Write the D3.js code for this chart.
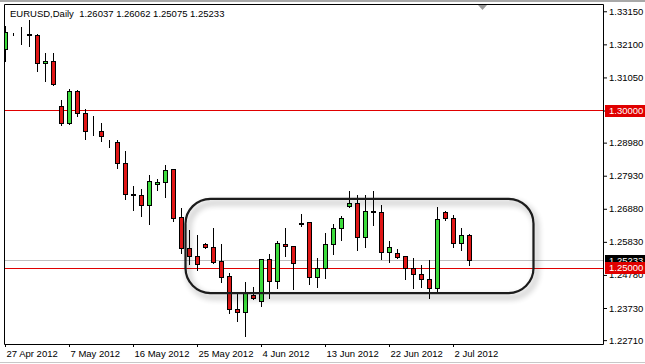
<!DOCTYPE html>
<html>
<head>
<meta charset="utf-8">
<script src="https://cdn.jsdelivr.net/npm/d3@7/dist/d3.min.js"></script>
<style>
body { margin: 0; background: #fff; }
text { font-family: Tahoma, "Liberation Sans", Arial, sans-serif; font-size: 9.5px; }
</style>
</head>
<body>
<script>
var w = 645;
var h = 364;

// daily bars, EURUSD (Sunday bars included)
var dates = ["27 Apr", "29 Apr", "30 Apr", "1 May", "2 May", "3 May", "4 May", "6 May", "7 May", "8 May",
    "9 May", "10 May", "11 May", "13 May", "14 May", "15 May", "16 May", "17 May", "18 May", "20 May",
    "21 May", "22 May", "23 May", "24 May", "25 May", "27 May", "28 May", "29 May", "30 May", "31 May",
    "1 Jun", "3 Jun", "4 Jun", "5 Jun", "6 Jun", "7 Jun", "8 Jun", "10 Jun", "11 Jun", "12 Jun",
    "13 Jun", "14 Jun", "15 Jun", "17 Jun", "18 Jun", "19 Jun", "20 Jun", "21 Jun", "22 Jun", "24 Jun",
    "25 Jun", "26 Jun", "27 Jun", "28 Jun", "29 Jun", "1 Jul", "2 Jul", "3 Jul", "4 Jul"];
var opens = [1.31943, 1.32410, 1.32400, 1.32410, 1.32389, 1.31480, 1.31561, 1.30127, 1.29586, 1.30605,
    1.29904, 1.29331, 1.29320, 1.29030, 1.28981, 1.28312, 1.27325, 1.27310, 1.26975, 1.27643,
    1.27707, 1.28121, 1.26592, 1.25605, 1.25350, 1.25732, 1.25637, 1.25191, 1.24745, 1.23694,
    1.23599, 1.24140, 1.23949, 1.25255, 1.24586, 1.25732, 1.25669, 1.26401, 1.26433, 1.24713,
    1.25000, 1.25732, 1.26242, 1.26943, 1.27038, 1.25955, 1.26783, 1.26770, 1.25478, 1.25446,
    1.25350, 1.25000, 1.24809, 1.24650, 1.24363, 1.26752, 1.26561, 1.25764, 1.26037];
var highs = [1.32675, 1.32450, 1.32650, 1.32866, 1.32420, 1.31815, 1.31815, 1.30318, 1.30669, 1.30630,
    1.30032, 1.29809, 1.29586, 1.29045, 1.29045, 1.28694, 1.27580, 1.27484, 1.27930, 1.27803,
    1.28248, 1.28140, 1.26879, 1.26178, 1.26019, 1.25764, 1.26242, 1.25732, 1.24841, 1.24236,
    1.24554, 1.24395, 1.25270, 1.25414, 1.25828, 1.26242, 1.25680, 1.26688, 1.26450, 1.25287,
    1.26083, 1.26369, 1.26624, 1.27420, 1.27293, 1.27293, 1.27420, 1.26975, 1.25828, 1.25573,
    1.25360, 1.25287, 1.25064, 1.25223, 1.26911, 1.26783, 1.26656, 1.26242, 1.26062];
var lows = [1.31561, 1.32380, 1.32080, 1.32038, 1.31242, 1.30924, 1.30796, 1.29522, 1.29570, 1.29809,
    1.29076, 1.29204, 1.29013, 1.28822, 1.28153, 1.27166, 1.26815, 1.26624, 1.26369, 1.27452,
    1.27229, 1.26465, 1.25446, 1.25096, 1.24936, 1.25605, 1.25140, 1.24554, 1.23567, 1.23312,
    1.22834, 1.24013, 1.23790, 1.24045, 1.24363, 1.25350, 1.24331, 1.26306, 1.24490, 1.24395,
    1.24682, 1.25414, 1.25860, 1.26911, 1.25541, 1.25637, 1.26338, 1.25255, 1.25159, 1.25287,
    1.24650, 1.24363, 1.24395, 1.24045, 1.24268, 1.26497, 1.25637, 1.25541, 1.25075];
var closes = [1.32484, 1.32400, 1.32410, 1.32390, 1.31497, 1.31550, 1.30810, 1.29586, 1.30605, 1.29904,
    1.29331, 1.29320, 1.29172, 1.29013, 1.28312, 1.27325, 1.27310, 1.26975, 1.27739, 1.27707,
    1.28089, 1.26561, 1.25605, 1.25350, 1.25096, 1.25637, 1.25159, 1.24713, 1.23694, 1.23599,
    1.24236, 1.24045, 1.25255, 1.24586, 1.25764, 1.25669, 1.25127, 1.26390, 1.24713, 1.25000,
    1.25732, 1.26242, 1.26561, 1.27038, 1.25955, 1.26783, 1.26770, 1.25478, 1.25637, 1.25318,
    1.25000, 1.24809, 1.24650, 1.24363, 1.26529, 1.26561, 1.25764, 1.26019, 1.25233];

var priceTicks = [1.33150, 1.32100, 1.31050, 1.30000, 1.28980, 1.27930, 1.26880, 1.25830, 1.24780, 1.23730, 1.22710];
var dateTicks = [0, 8, 16, 24, 32, 40, 48, 56];
var tickLabels = ["27 Apr 2012", "7 May 2012", "16 May 2012", "25 May 2012", "4 Jun 2012", "13 Jun 2012", "22 Jun 2012", "2 Jul 2012"];

var levels = [1.30000, 1.25000];
var lastPrice = 1.25233;
var title = "EURUSD,Daily  1.26037 1.26062 1.25075 1.25233";

// range box drawn on the chart (bar index / price)
var boxBars = [22.5, 66];
var boxPrices = [1.27197, 1.24204];

var bars = dates.map((d, i) => ({
    i: i, date: d, o: opens[i], h: highs[i], l: lows[i], c: closes[i]
}));

var fmt = d3.format(".5f");
var bull = "#3cdc3c";
var bear = "#e01616";
var levelColor = "#e00000";

var xScale = d3.scaleLinear()
    .domain([0, 58])
    .range([5.5, 469.5]);

var yScale = d3.scaleLinear()
    .domain([1.25, 1.30])
    .range([268, 110.5]);

var py = p => Math.round(yScale(p) - 0.5) + 0.5;

var svg = d3.select("body")
    .append("svg")
    .attr("width", w)
    .attr("height", h);

var defs = svg.append("defs");
defs.append("clipPath")
    .attr("id", "plot")
    .append("rect")
    .attr("x", 5).attr("y", 5)
    .attr("width", 598).attr("height", 339);

var shadow = defs.append("filter")
    .attr("id", "shadow")
    .attr("x", "-10%").attr("y", "-20%")
    .attr("width", "120%").attr("height", "150%");
shadow.append("feGaussianBlur")
    .attr("in", "SourceAlpha")
    .attr("stdDeviation", 3)
    .attr("result", "blur");
shadow.append("feOffset")
    .attr("in", "blur")
    .attr("dx", 3).attr("dy", 4)
    .attr("result", "off");
shadow.append("feComponentTransfer")
    .attr("in", "off")
    .attr("result", "soft")
    .append("feFuncA")
    .attr("type", "linear")
    .attr("slope", 0.45);
var merge = shadow.append("feMerge");
merge.append("feMergeNode").attr("in", "soft");
merge.append("feMergeNode").attr("in", "SourceGraphic");

// window edges
svg.append("rect")
    .attr("x", 0).attr("y", 0)
    .attr("width", w).attr("height", 2)
    .attr("fill", "#a8a8a8");
svg.append("line")
    .attr("x1", 0).attr("x2", w)
    .attr("y1", 362.5).attr("y2", 362.5)
    .attr("stroke", "#c8c8c8");

var plot = svg.append("g").attr("clip-path", "url(#plot)");

// current price line
plot.append("line")
    .attr("x1", 4).attr("x2", 603)
    .attr("y1", py(lastPrice)).attr("y2", py(lastPrice))
    .attr("stroke", "#c0c0c0");

// horizontal levels
plot.selectAll("line.level")
    .data(levels)
    .enter()
    .append("line")
    .attr("class", "level")
    .attr("x1", 4).attr("x2", 603)
    .attr("y1", d => py(d)).attr("y2", d => py(d))
    .style("stroke", levelColor);

var candles = plot.selectAll("g.bar")
    .data(bars)
    .enter()
    .append("g")
    .attr("class", "bar");

candles.append("line")
    .attr("x1", d => xScale(d.i)).attr("x2", d => xScale(d.i))
    .attr("y1", d => py(d.h) - 0.5).attr("y2", d => py(d.l) + 0.5)
    .attr("stroke", "#000");

candles.append("rect")
    .attr("x", d => xScale(d.i) - 2)
    .attr("width", 4)
    .attr("y", d => py(Math.max(d.o, d.c)))
    .attr("height", d => py(Math.min(d.o, d.c)) - py(Math.max(d.o, d.c)))
    .attr("fill", d => d.c >= d.o ? bull : bear)
    .attr("stroke", "#000");

// range box annotation
svg.append("rect")
    .attr("x", xScale(boxBars[0]))
    .attr("y", yScale(boxPrices[0]))
    .attr("width", xScale(boxBars[1]) - xScale(boxBars[0]))
    .attr("height", yScale(boxPrices[1]) - yScale(boxPrices[0]))
    .attr("rx", 25).attr("ry", 25)
    .attr("fill", "none")
    .attr("stroke", "#1a1a1a")
    .attr("stroke-width", 2.2)
    .attr("filter", "url(#shadow)");

// frame
svg.append("path")
    .attr("d", "M4.5,344.5V4.5H603.5V344.5H4.5")
    .attr("fill", "none")
    .attr("stroke", "#000");

// shift marker
svg.append("path")
    .attr("d", "M478,5L487,5L482.5,10Z")
    .attr("fill", "#9a9a9a");

// right price axis
var yAxis = d3.axisRight(yScale)
    .tickValues(priceTicks)
    .tickSize(4)
    .tickPadding(2)
    .tickFormat(fmt);

var ya = svg.append("g")
    .attr("transform", "translate(603,0)")
    .call(yAxis);
ya.select(".domain").remove();
ya.selectAll(".tick line").attr("stroke", "#000");
ya.selectAll("text")
    .attr("fill", "#000")
    .style("font-size", "9.5px")
    .style("font-family", "Tahoma, 'Liberation Sans', Arial, sans-serif");

// bottom date axis
var xAxis = d3.axisBottom(xScale)
    .tickValues(dateTicks)
    .tickSize(3)
    .tickPadding(3)
    .tickFormat((d, i) => tickLabels[i]);

var xa = svg.append("g")
    .attr("transform", "translate(-0.5,344)")
    .call(xAxis);
xa.select(".domain").remove();
xa.selectAll(".tick line").attr("stroke", "#000");
xa.selectAll("text")
    .attr("text-anchor", "start")
    .attr("x", 1)
    .attr("fill", "#000")
    .style("font-size", "9.5px")
    .style("font-family", "Tahoma, 'Liberation Sans', Arial, sans-serif");

// price labels on the axis (the level tags sit on top of the price tag, as on the terminal)
var tags = [
    {p: lastPrice, bg: "#000"},
    {p: levels[0], bg: levelColor},
    {p: levels[1], bg: levelColor}
];
var tag = svg.selectAll("g.tag")
    .data(tags)
    .enter()
    .append("g")
    .attr("class", "tag")
    .attr("transform", d => "translate(605," + Math.round(yScale(d.p)) + ")");
tag.append("rect")
    .attr("x", 0).attr("y", -6)
    .attr("width", 40).attr("height", 12)
    .attr("fill", d => d.bg);
tag.append("text")
    .attr("x", 4).attr("dy", "0.35em")
    .attr("fill", "#fff")
    .text(d => fmt(d.p));

// title
svg.append("text")
    .attr("x", 10).attr("y", 17)
    .attr("fill", "#000")
    .attr("xml:space", "preserve")
    .style("white-space", "pre")
    .text(title);
</script>
</body>
</html>
